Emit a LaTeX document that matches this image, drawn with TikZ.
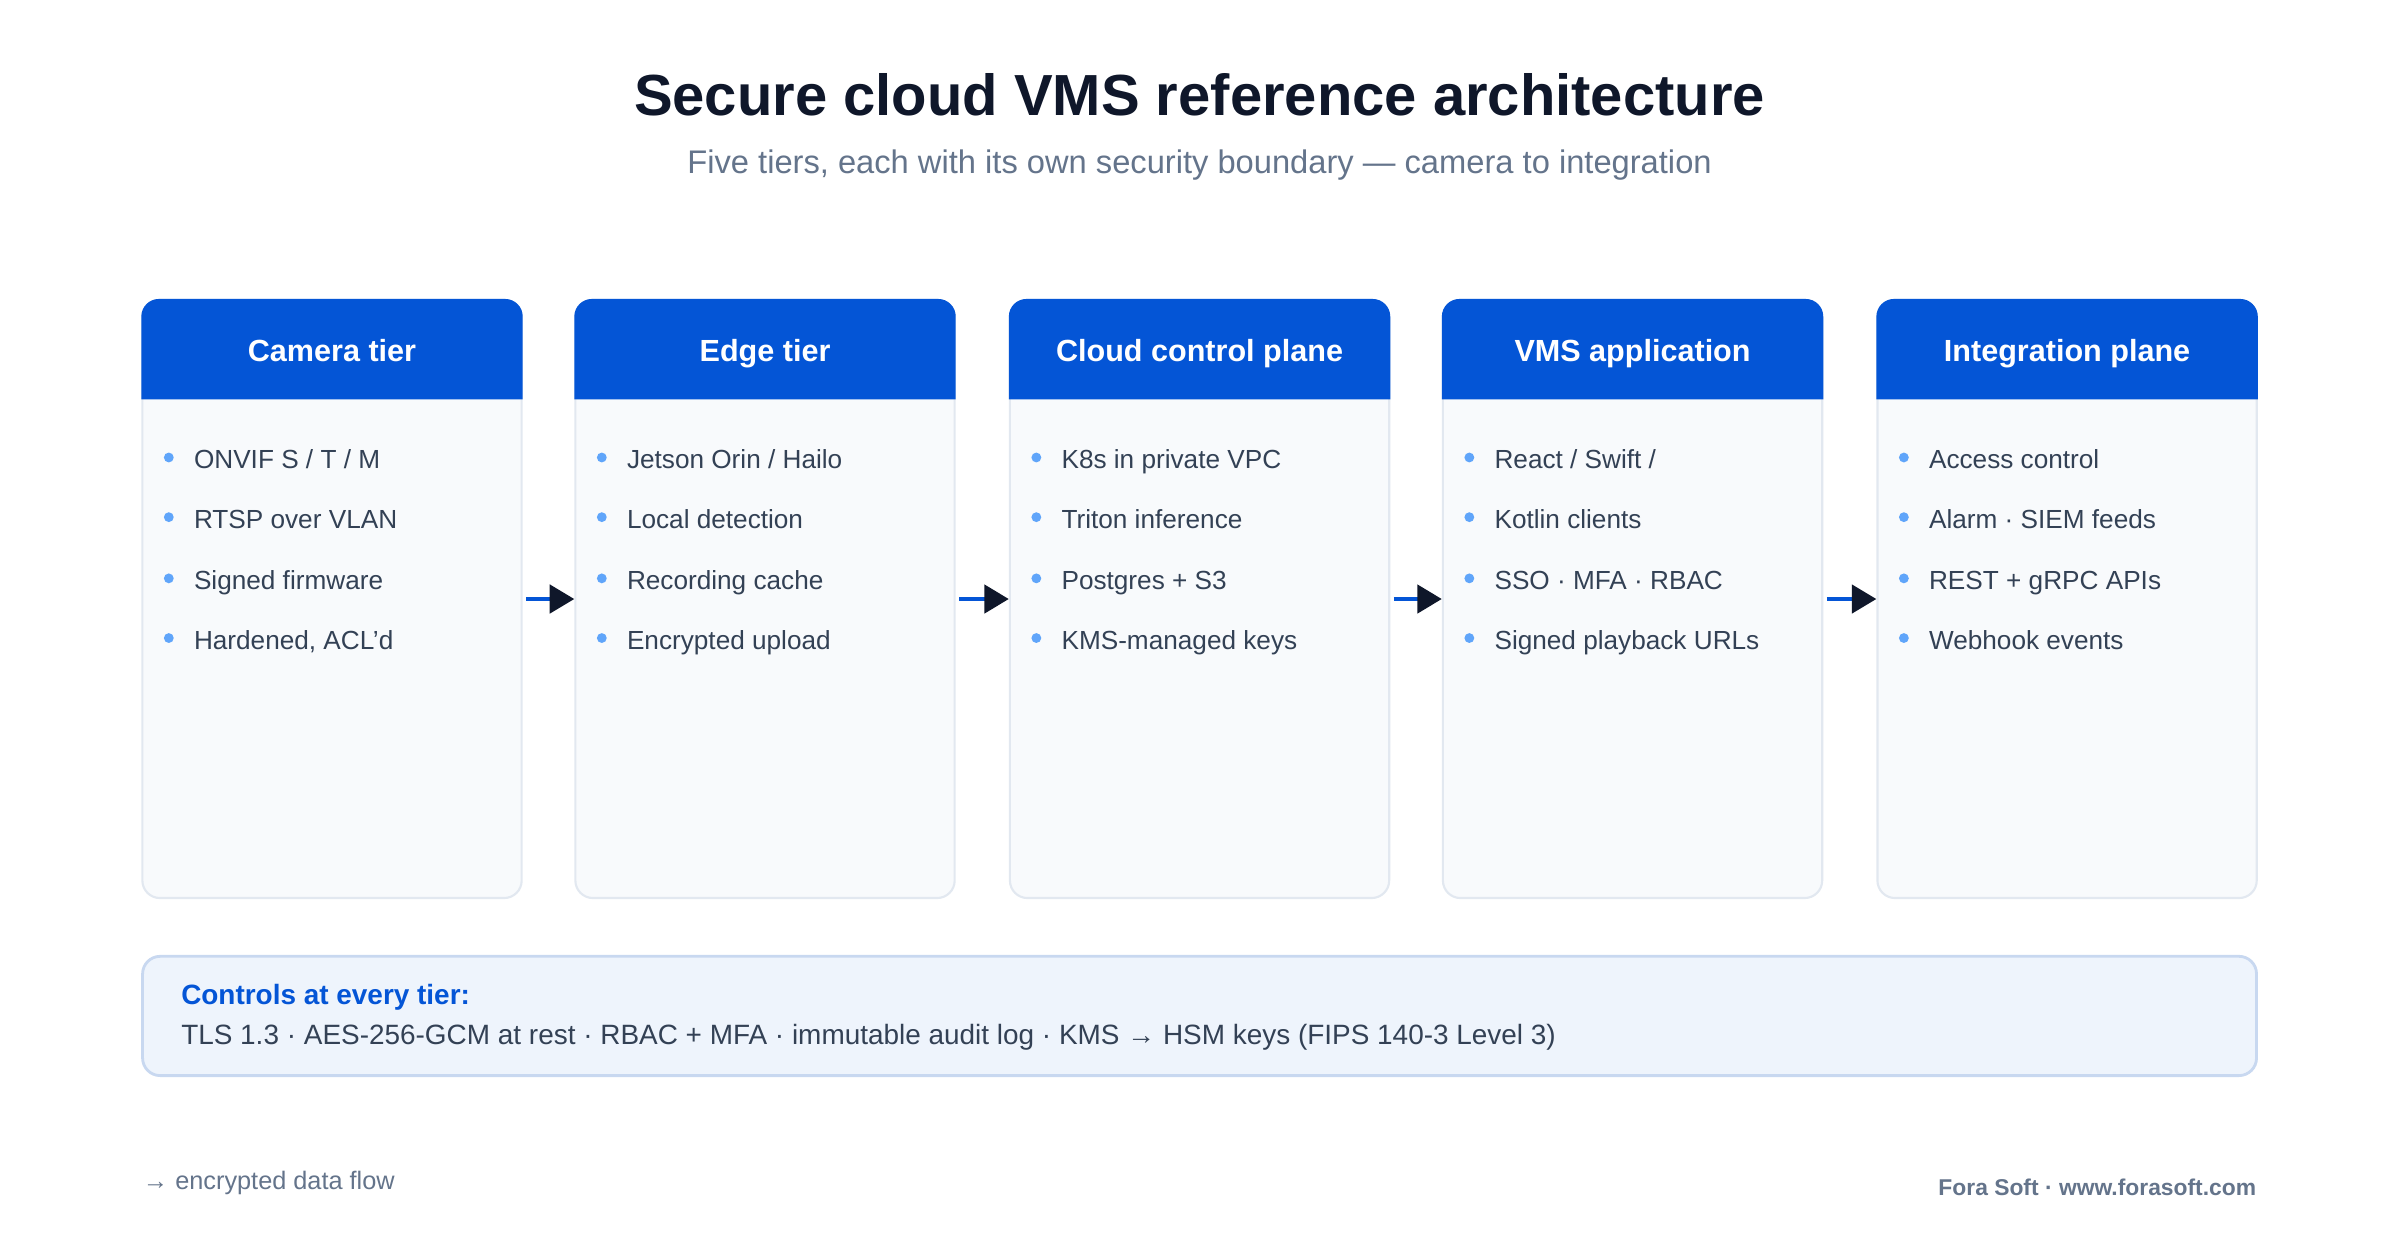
\documentclass[tikz,border=0pt]{standalone}
\usepackage{fontspec}
\setmainfont{Liberation Sans}
\usetikzlibrary{arrows.meta}
\definecolor{hdrblue}{HTML}{0455D6}
\definecolor{navy}{HTML}{0F172A}
\definecolor{bodyfill}{HTML}{F8FAFC}
\definecolor{bodyline}{HTML}{E2E8F0}
\definecolor{dot}{HTML}{60A5FA}
\definecolor{txt}{HTML}{334155}
\definecolor{grey}{HTML}{64748B}
\definecolor{ctlfill}{HTML}{EEF4FC}
\definecolor{ctlline}{HTML}{C8D8F0}
\begin{document}
\begin{tikzpicture}[x=0.0153cm,y=-0.0153cm,
            tier-box/.style={rectangle,rounded corners=5pt,draw=bodyline,line width=0.6pt,fill=bodyfill,
              minimum width=3.794cm,minimum height=5.982cm,inner sep=0pt},
            tier-head/.style={text=white,font=\fontsize{8.7}{11}\selectfont\bfseries,text height=1.6ex,text depth=0.4ex},
            item/.style={anchor=west,text=txt,font=\fontsize{7.45}{9}\selectfont,inner sep=0pt,text height=1.6ex,text depth=0.4ex},
            flow/.style={draw=hdrblue,line width=1.3pt,-{Triangle[length=7pt,width=8pt,color=navy,fill=navy]}},
        ]
            \useasboundingbox (0,0) rectangle (1568.6,810.5);
            \fill[white] (0,0) rectangle (1568.6,810.5);

            \node[font=\fontsize{16.5}{20}\selectfont\bfseries,text=navy] (title) at (784,62) {Secure cloud VMS reference architecture};
            \node[font=\fontsize{9.3}{11}\selectfont,text=grey] (subtitle) at (784,108) {Five tiers, each with its own security boundary — camera to integration};

            \foreach \name/\x/\head/\ia/\ib/\ic/\id in {
                cam/217/{Camera tier}/{ONVIF S / T / M}/{RTSP over VLAN}/{Signed firmware}/{Hardened, ACL’d},
                edge/500/{Edge tier}/{Jetson Orin / Hailo}/{Local detection}/{Recording cache}/{Encrypted upload},
                cloud/784/{Cloud control plane}/{K8s in private VPC}/{Triton inference}/{Postgres + S3}/{KMS-managed keys},
                vms/1067/{VMS application}/{React / Swift /}/{Kotlin clients}/{SSO · MFA · RBAC}/{Signed playback URLs},
                integ/1351/{Integration plane}/{Access control}/{Alarm · SIEM feeds}/{REST + gRPC APIs}/{Webhook events}} {
                \node[tier-box] (\name) at (\x,391.5) {};
                \fill[hdrblue] (\name.west |- 0,261) [rounded corners=5pt] -- (\name.north west) -- (\name.north east) [sharp corners] -- (\name.east |- 0,261) -- cycle;
                \node[tier-head] (\name-head) at (\x,229) {\head};
                \fill[dot] ([xshift=0.275cm]\name.west |- 0,299) circle (1.4pt);
                \fill[dot] ([xshift=0.275cm]\name.west |- 0,338) circle (1.4pt);
                \fill[dot] ([xshift=0.275cm]\name.west |- 0,378) circle (1.4pt);
                \fill[dot] ([xshift=0.275cm]\name.west |- 0,417) circle (1.4pt);
                \node[item] (\name-1) at ([xshift=0.52cm]\name.west |- 0,299) {\ia};
                \node[item] (\name-2) at ([xshift=0.52cm]\name.west |- 0,338) {\ib};
                \node[item] (\name-3) at ([xshift=0.52cm]\name.west |- 0,378) {\ic};
                \node[item] (\name-4) at ([xshift=0.52cm]\name.west |- 0,417) {\id};
            }

            \draw[flow] ([xshift=1pt]cam.east) -- (edge.west);
            \draw[flow] ([xshift=1pt]edge.east) -- (cloud.west);
            \draw[flow] ([xshift=1pt]cloud.east) -- (vms.west);
            \draw[flow] ([xshift=1pt]vms.east) -- (integ.west);

            \node[rectangle,rounded corners=5pt,draw=ctlline,line width=0.8pt,fill=ctlfill,
              minimum width=21.145cm,minimum height=1.193cm] (controls) at (784,664) {};
            \node[anchor=west,inner sep=0pt,text=hdrblue,font=\fontsize{7.95}{10}\selectfont\bfseries] (controls-head) at (118,652) {Controls at every tier:};
            \node[anchor=west,inner sep=0pt,text=txt,font=\fontsize{7.95}{10}\selectfont] (controls-list) at (118,678) {TLS 1.3 · AES-256-GCM at rest · RBAC + MFA · immutable audit log · KMS → HSM keys (FIPS 140-3 Level 3)};

            \node[anchor=west,inner sep=0pt,text=grey,font=\fontsize{7.2}{8}\selectfont] (legend) at (93,773) {→ encrypted data flow};
            \node[anchor=east,inner sep=0pt,text=grey,font=\fontsize{6.5}{8}\selectfont\bfseries] (credit) at (1475,776) {Fora Soft · www.forasoft.com};
        \end{tikzpicture}
\end{document}
